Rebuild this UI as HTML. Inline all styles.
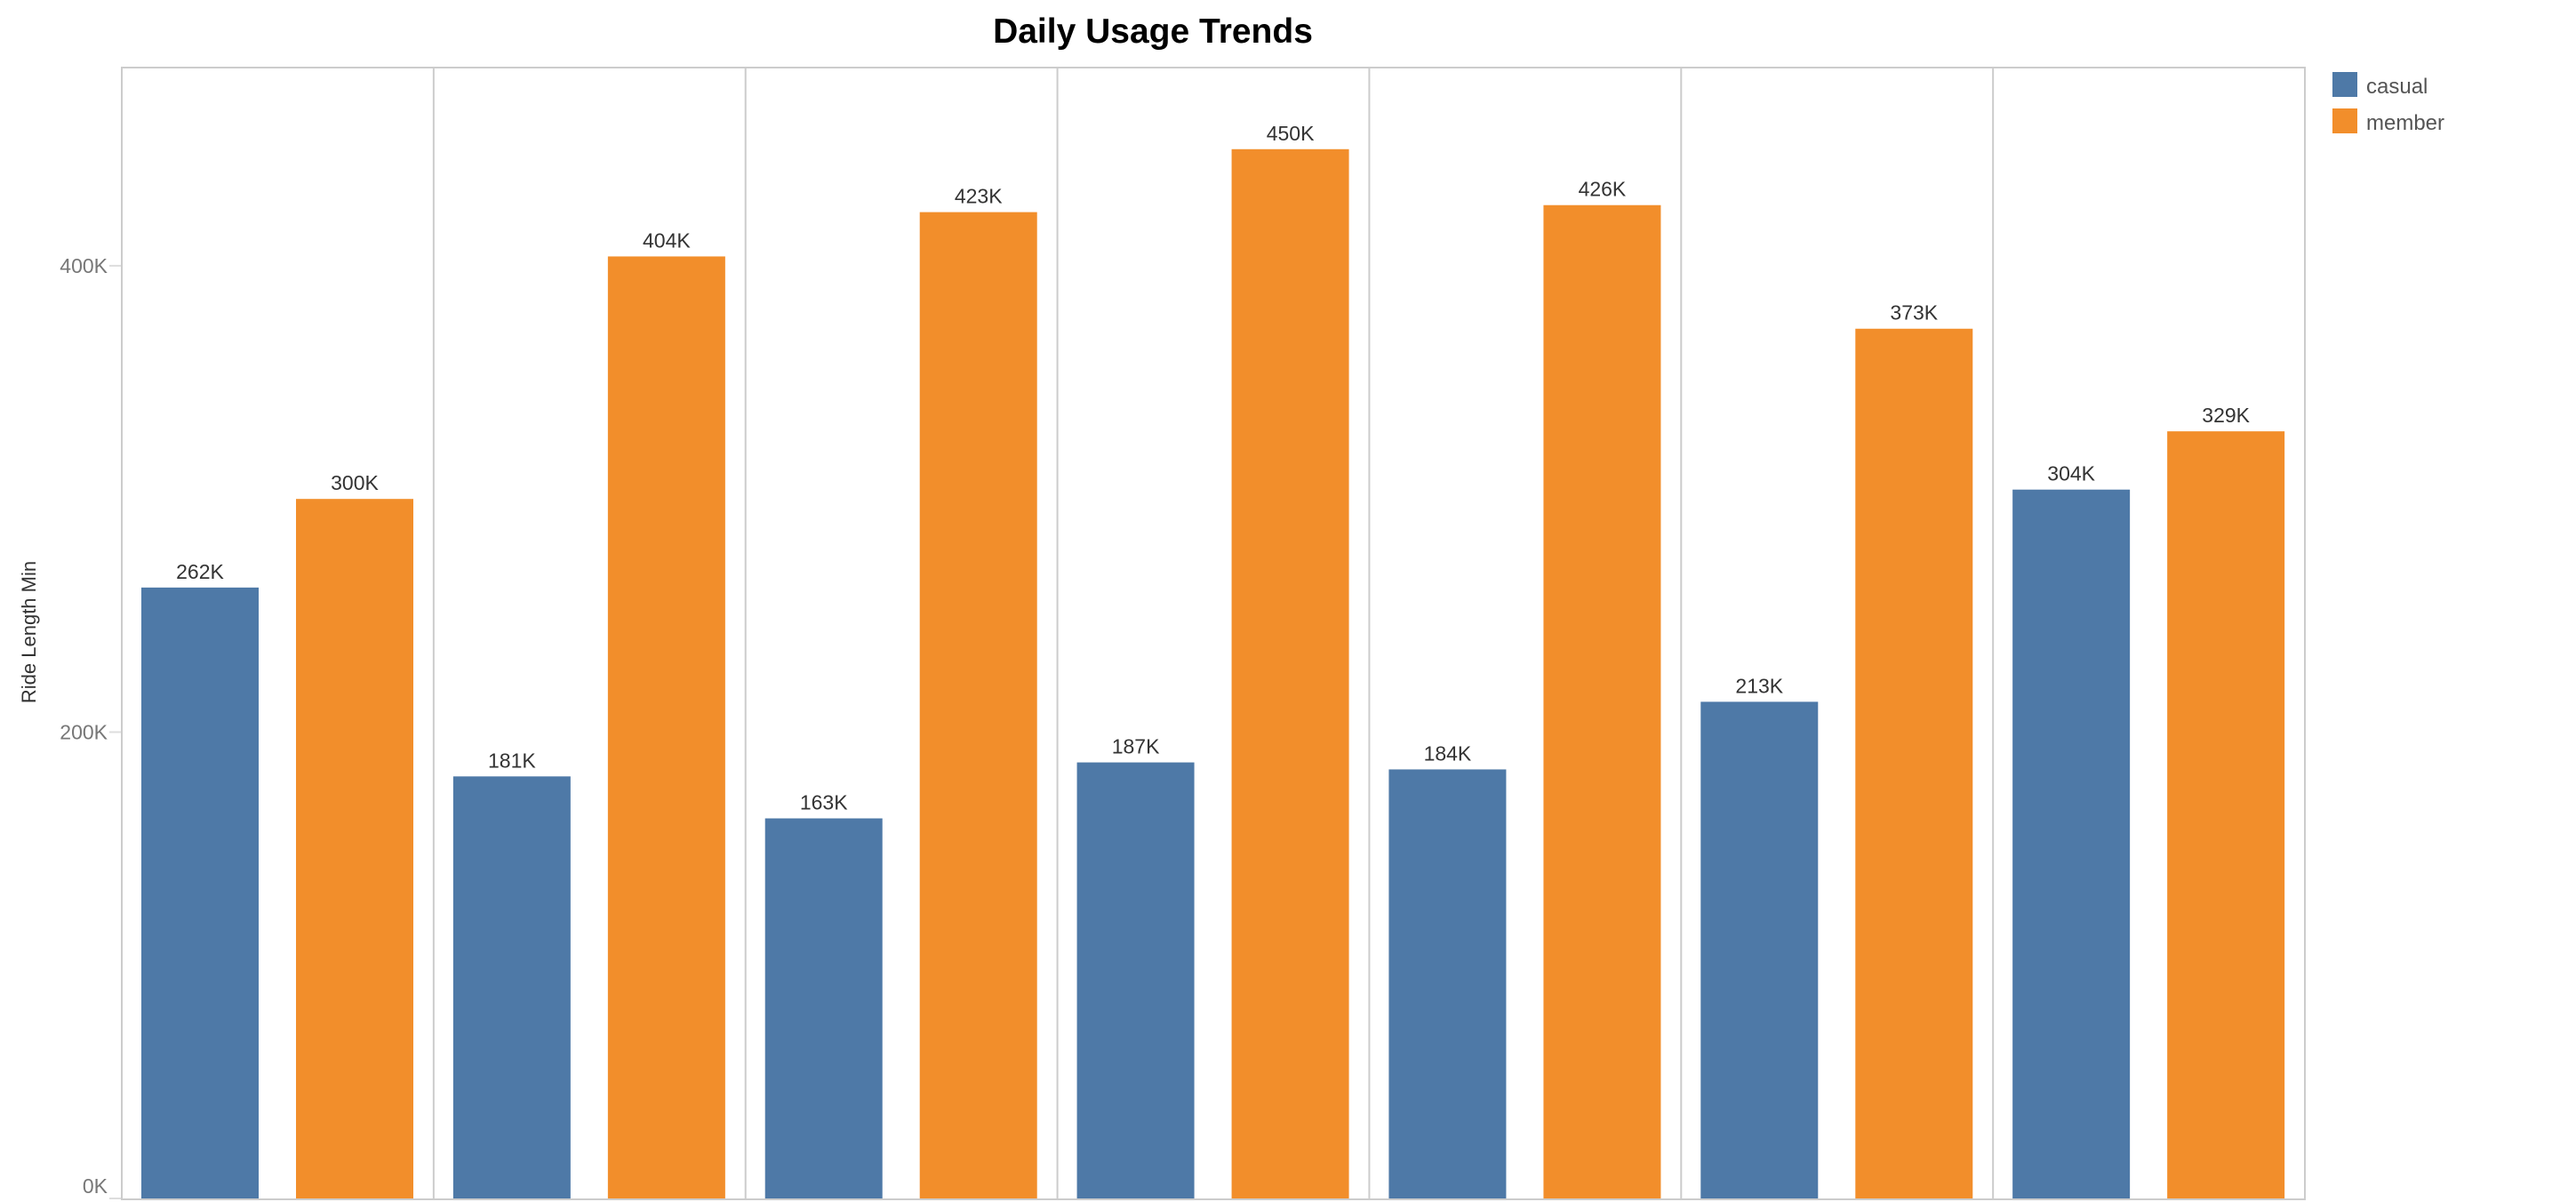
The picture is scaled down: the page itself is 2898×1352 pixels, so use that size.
<!DOCTYPE html>
<html><head><meta charset="utf-8"><style>
html,body{margin:0;padding:0;background:#fff;}
svg{display:block;font-family:"Liberation Sans","DejaVu Sans",sans-serif;}
</style></head><body>
<svg id="chart" width="2898" height="1352" viewBox="0 0 2898 1352" xmlns="http://www.w3.org/2000/svg">
<text x="1297" y="48" text-anchor="middle" font-size="39" font-weight="bold" fill="#000">Daily Usage Trends</text>
<text transform="translate(40,711) rotate(-90)" text-anchor="middle" font-size="22" fill="#333">Ride Length Min</text>
<g id="plot"></g>
<g>
<rect x="2624" y="81" width="28" height="28" fill="#4e79a7"/>
<text x="2662" y="105" font-size="24" fill="#555">casual</text>
<rect x="2624" y="122" width="28" height="28" fill="#f28e2b"/>
<text x="2662" y="146" font-size="24" fill="#555">member</text>
</g>
</svg>
<script>
const categories = ["Sun","Mon","Tue","Wed","Thu","Fri","Sat"];
const casualValues = [262,181,163,187,184,213,304];
const memberValues = [300,404,423,450,426,373,329];
const yTicks = [0,200,400];
const yTickLabels = ["0K","200K","400K"];

const NS = "http://www.w3.org/2000/svg";
const plot = document.getElementById('plot');
const L = 137, R = 2593, T = 76, B = 1348, yMax = 485;
const panelW = (R - L) / categories.length;
function y(v){ return B - (v / yMax) * (B - T); }
function mk(tag, attrs){ const e = document.createElementNS(NS, tag); for (const k in attrs) e.setAttribute(k, attrs[k]); plot.appendChild(e); return e; }

yTicks.forEach((t, i) => {
  const tk = mk('line', {x1: L - 14, x2: L, y1: y(t), y2: y(t), stroke: '#ddd', 'stroke-width': 2});
  
  
  const ly = Math.min(y(t) + 8, B - 6);
  const lb = mk('text', {x: L - 16, y: ly, 'text-anchor': 'end', 'font-size': 23, fill: '#777'});
  lb.textContent = yTickLabels[i];
  
  
});

const frame = mk('rect', {x: L, y: T, width: R - L, height: B - T + 1, fill: 'none', stroke: '#ccc', 'stroke-width': 2});



categories.forEach((c, i) => {
  const px = L + i * panelW;
  if (i > 0) {
    const d = mk('line', {x1: px, x2: px, y1: T, y2: B, stroke: '#ccc', 'stroke-width': 2});
    
    
  }
  [[casualValues[i], '#4e79a7', 22, 'casual'], [memberValues[i], '#f28e2b', 196, 'member']].forEach(([v, col, off, s]) => {
    const bx = px + off, bw = 132;
    const b = mk('rect', {x: bx, y: y(v), width: bw, height: B - y(v), fill: col});
    
    
    const t = mk('text', {x: bx + bw / 2, y: y(v) - 10, 'text-anchor': 'middle', 'font-size': 23, fill: '#333'});
    t.textContent = v + 'K';
    
    
  });
});
</script>
</body></html>
